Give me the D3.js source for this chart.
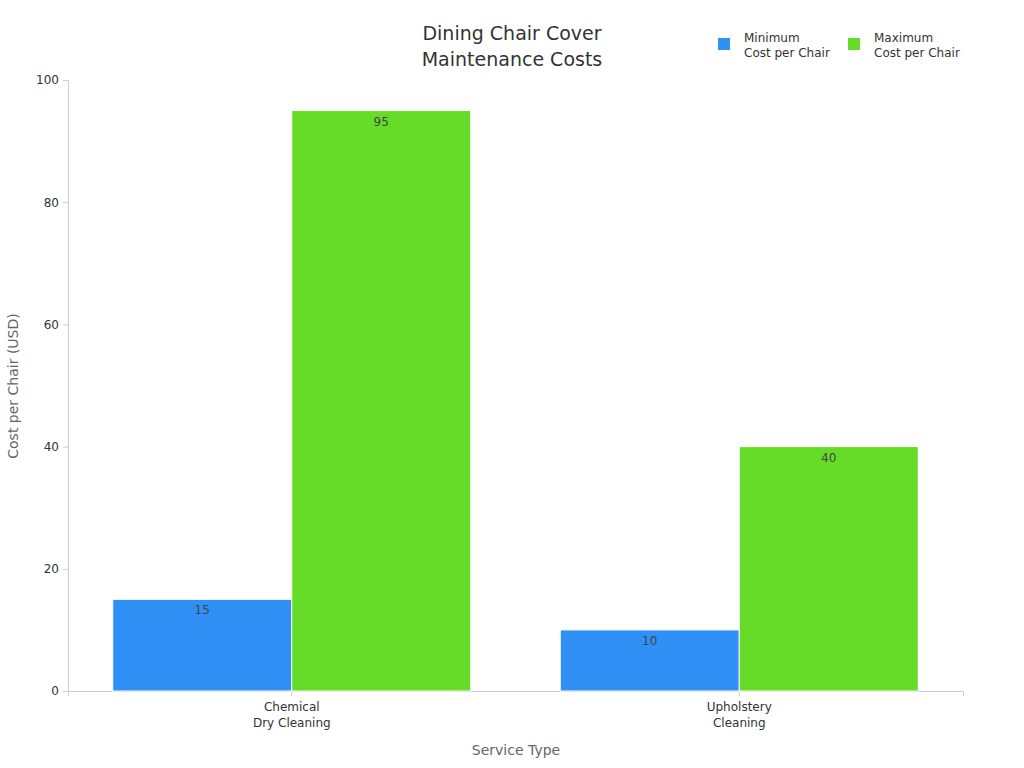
<!DOCTYPE html>
<html><head><meta charset="utf-8">
<script src="https://cdn.jsdelivr.net/npm/d3@7"></script>
<style>body{margin:0;background:#fff}text{font-family:"DejaVu Sans",sans-serif}</style>
</head><body><svg id="c" width="1024" height="768"></svg>
<script>
const categories = [["Chemical","Dry Cleaning"],["Upholstery","Cleaning"]];
const seriesNames = [["Minimum","Cost per Chair"],["Maximum","Cost per Chair"]];
const minCost = [15, 10];
const maxCost = [95, 40];
const yTicks = [0,20,40,60,80,100];
const colors = ["#3090f5","#66dc28"];

const svg = d3.select("#c");
const m = {l:68, r:963, t:80, b:691};
const x = d3.scaleBand().domain(d3.range(categories.length)).range([m.l,m.r]).paddingInner(0.2).paddingOuter(0.1);
const x1 = d3.scaleBand().domain([0,1]).range([0,x.bandwidth()]);
const y = d3.scaleLinear().domain([0,100]).range([m.b,m.t]);

// axes
const ya = svg.append("g").attr("transform",`translate(${m.l},0)`).call(d3.axisLeft(y).tickValues(yTicks).tickSize(5).tickPadding(4));
ya.selectAll("path,line").attr("stroke","#ccc");
ya.selectAll("text").attr("font-size",12).attr("fill","#333");
const xa = svg.append("g").attr("transform",`translate(0,${m.b})`).call(d3.axisBottom(x).tickSize(5).tickFormat(""));
xa.selectAll("path,line").attr("stroke","#ccc");
xa.selectAll(".tick").each(function(d){
  const t=d3.select(this).append("text").attr("fill","#333").attr("font-size",12).attr("text-anchor","middle");
  categories[d].forEach((s,i)=>t.append("tspan").attr("x",0).attr("y",20+i*16).text(s));
});

const series=[minCost,maxCost];
series.forEach((vals,si)=>{
  const g=svg.append("g");
  g.selectAll("rect").data(vals).join("rect")
    .attr("x",(d,i)=>x(i)+x1(si)).attr("width",x1.bandwidth())
    .attr("y",d=>y(d)).attr("height",d=>y(0)-y(d))
    .attr("fill",colors[si]).attr("stroke","#fff").attr("stroke-width",1);
  g.selectAll("text").data(vals).join("text")
    .attr("x",(d,i)=>x(i)+x1(si)+x1.bandwidth()/2).attr("y",d=>y(d)+15)
    .attr("text-anchor","middle").attr("font-size",12).attr("fill","#444").text(d=>d);
});

// title
const tt=svg.append("text").attr("text-anchor","middle").attr("font-size",19).attr("fill","#333");
["Dining Chair Cover","Maintenance Costs"].forEach((s,i)=>tt.append("tspan").attr("x",512).attr("y",40+i*26).text(s));

// axis titles
svg.append("text").attr("x",516).attr("y",755).attr("text-anchor","middle").attr("font-size",14).attr("fill","#666").text("Service Type");
svg.append("text").attr("transform","translate(18,386) rotate(-90)").attr("text-anchor","middle").attr("font-size",14).attr("fill","#666").text("Cost per Chair (USD)");

// legend
const lx=[718,848];
seriesNames.forEach((n,i)=>{
  svg.append("rect").attr("x",lx[i]).attr("y",38).attr("width",12).attr("height",12).attr("fill",colors[i]);
  const t=svg.append("text").attr("font-size",12).attr("fill","#333");
  n.forEach((s,j)=>t.append("tspan").attr("x",lx[i]+26).attr("y",42+j*15).text(s));
});
</script></body></html>
